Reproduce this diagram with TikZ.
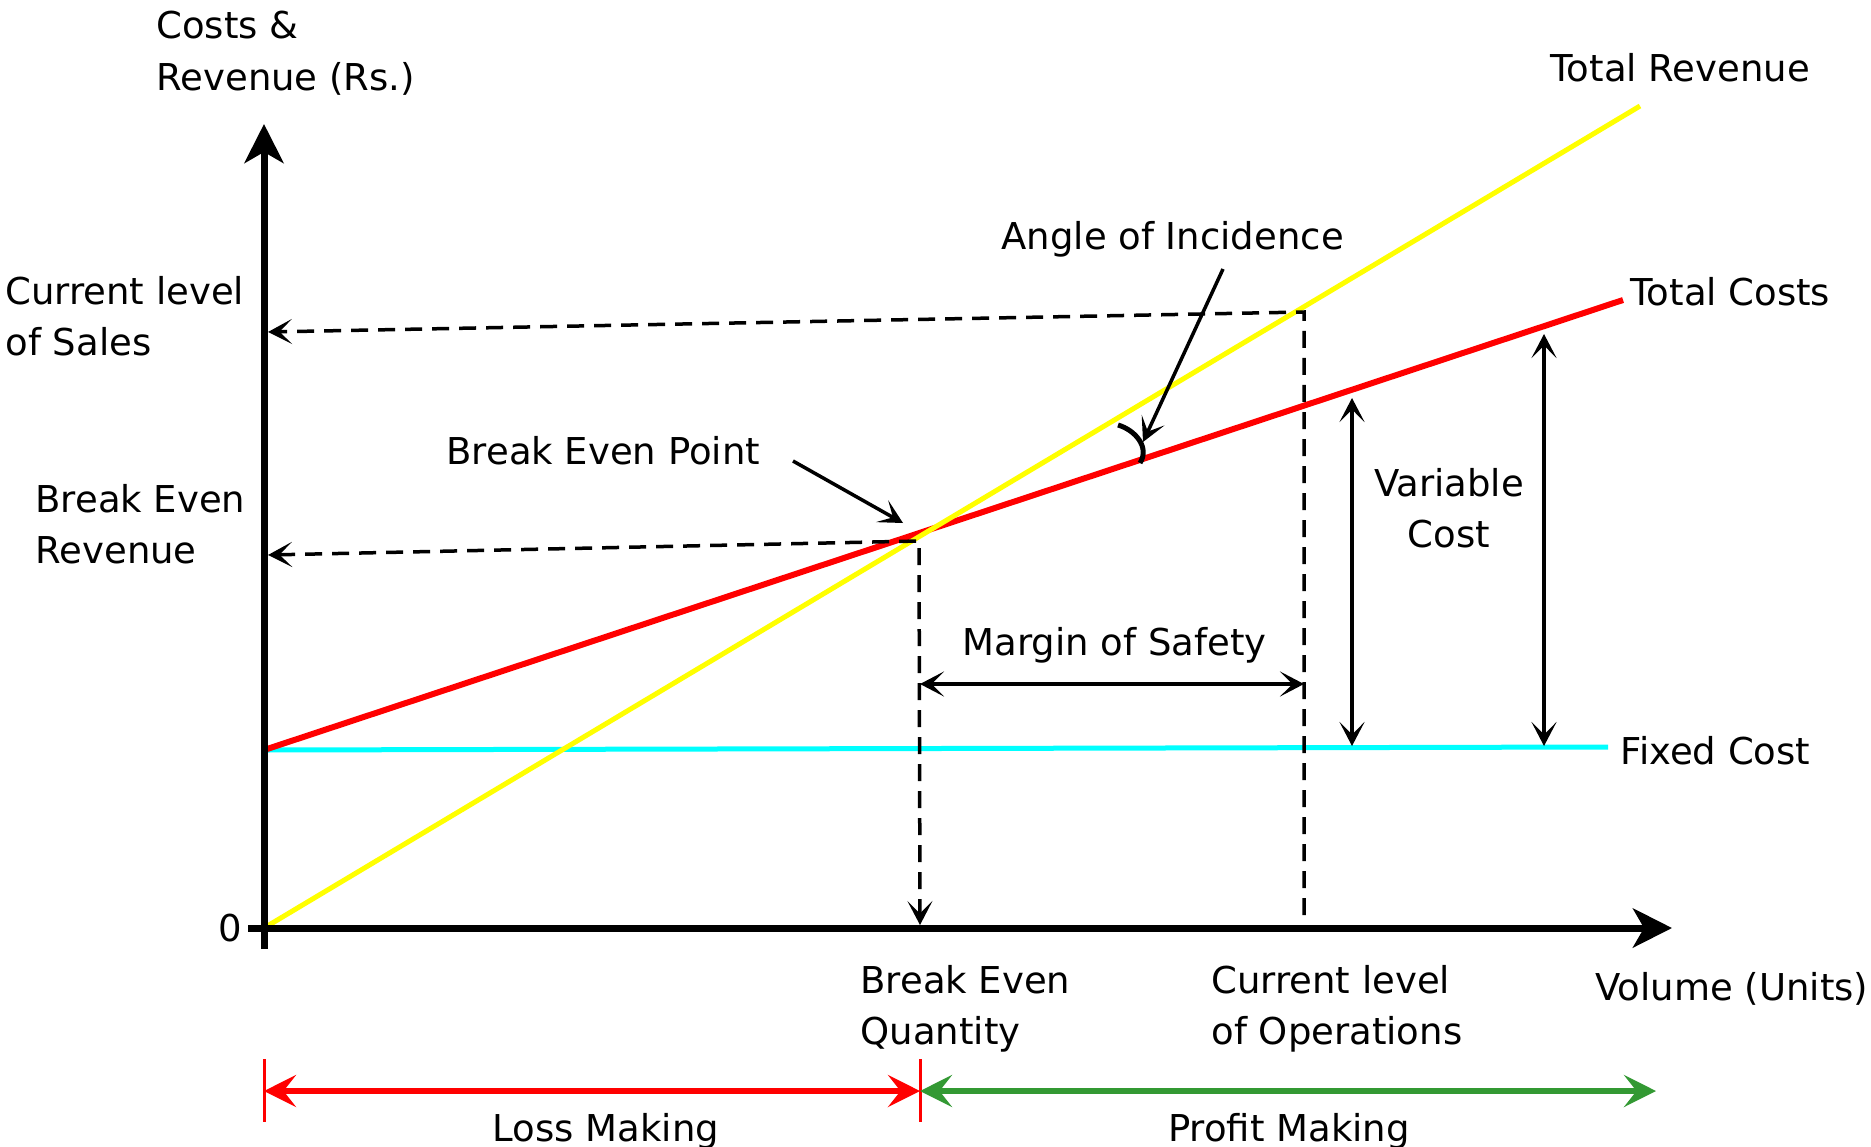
\documentclass[tikz,border=0pt]{standalone}
\usepackage{fontspec}
\setmainfont{DejaVu Sans}
\usetikzlibrary{arrows.meta}
\definecolor{tcred}{RGB}{255,0,0}
\definecolor{tryellow}{RGB}{255,255,0}
\definecolor{fccyan}{RGB}{0,255,255}
\definecolor{pmgreen}{RGB}{51,153,51}
\tikzset{
  axistip/.tip={Stealth[length=15.6pt,width=15.6pt,inset=4.4pt]},
  smalltip/.tip={Stealth[length=9.6pt,width=10pt,inset=5pt]},
  bigtip/.tip={Stealth[length=12.8pt,width=12.8pt,inset=5pt]},
  lbl/.style={inner sep=0pt, font=\fontsize{14.8}{20.4}\selectfont, align=left, anchor=base west},
  axisline/.style={line width=2.8pt, black},
  guide/.style={line width=1.4pt, black, dash pattern=on 6.8pt off 4pt},
  pointer/.style={line width=1.4pt, black},
  revline/.style={line width=2pt, tryellow},
  costline/.style={line width=2.4pt, tcred},
  fixline/.style={line width=2pt, fccyan},
  zoneline/.style={line width=2.4pt},
  zonetick/.style={line width=1.2pt, tcred}
}
\begin{document}
\begin{tikzpicture}[x=0.4pt,y=-0.4pt]
\fill[white] (0,0) rectangle (1871,1146);
\useasboundingbox (0,0) rectangle (1871,1146);

% key coordinates
\coordinate (O) at (264,928);
\coordinate (ytop) at (264,124);
\coordinate (ybot) at (264,949);
\coordinate (xleft) at (248,928);
\coordinate (xright) at (1672,928);
\coordinate (fc1) at (264,750);
\coordinate (fc2) at (1608,747);
\coordinate (tc1) at (264,750);
\coordinate (tc2) at (1623,300);
\coordinate (tr2) at (1640,106);
\coordinate (bepc) at (919,541);
\coordinate (bepL) at (268,555);
\coordinate (bepD) at (920,925);
\coordinate (curB) at (1304,915);
\coordinate (curT) at (1304,312);
\coordinate (curL) at (268,332);
\coordinate (mosL) at (920,684);
\coordinate (mosR) at (1304,684);
\coordinate (vc1t) at (1352,398);
\coordinate (vc1b) at (1352,746);
\coordinate (vc2t) at (1544,334);
\coordinate (vc2b) at (1544,746);
\coordinate (bepA) at (793,461);
\coordinate (bepB) at (903,523);
\coordinate (aoiA) at (1223,269);
\coordinate (aoiB) at (1143,442);
\coordinate (arcA) at (1118,425);
\coordinate (arcB) at (1140,463);
\coordinate (zl) at (264,1091);
\coordinate (zm) at (920,1091);
\coordinate (zr) at (1656,1091);
\coordinate (t1a) at (264,1059);
\coordinate (t1b) at (264,1122);
\coordinate (t2a) at (920,1059);
\coordinate (t2b) at (920,1122);

% lines
\draw[fixline] (fc1) -- (fc2);
\draw[costline] (tc1) -- (tc2);
\draw[revline] (O) -- (tr2);

% axes
\draw[axisline] (ybot) -- (264,928);
\draw[axisline, -{axistip}] (264,931) -- (ytop);
\draw[axisline, -{axistip}] (xleft) -- (xright);

% guides
\draw[guide, {smalltip}-{smalltip}] (bepL) -- (bepc) -- (bepD);
\draw[guide, -{smalltip}] (curB) -- (curT) -- (curL);

% pointers
\draw[pointer, {smalltip}-{smalltip}] (mosL) -- (mosR);
\draw[pointer, {smalltip}-{smalltip}] (vc1t) -- (vc1b);
\draw[pointer, {smalltip}-{smalltip}] (vc2t) -- (vc2b);
\draw[pointer, -{smalltip}] (bepA) -- (bepB);
\draw[pointer, -{smalltip}] (aoiA) -- (aoiB);
\draw[line width=2pt, black] (arcA) .. controls (1135,430) and (1150,447) .. (arcB);

% zones
\draw[zonetick] (t1a) -- (t1b);
\draw[zonetick] (t2a) -- (t2b);
\draw[zoneline, tcred, {bigtip}-{bigtip}] (zl) -- (zm);
\draw[zoneline, pmgreen, {bigtip}-{bigtip}] (zm) -- (zr);

% labels (multi-line nodes: base = last line's baseline)
\node[lbl] (ylabel) at (156,90) {Costs \&\\Revenue (Rs.)};
\node[lbl] (cls) at (5,355) {Current level\\of Sales};
\node[lbl] (ber) at (35,563) {Break Even\\Revenue};
\node[lbl] (bepl) at (446,464) {Break Even Point};
\node[lbl, anchor=base] (zero) at (230,941) {0};
\node[lbl] (beq) at (860,1044) {Break Even\\Quantity};
\node[lbl] (clo) at (1211,1044) {Current level\\of Operations};
\node[lbl] (xlabel) at (1595,1000) {Volume (Units)};
\node[lbl] (trl) at (1550,81) {Total Revenue};
\node[lbl] (tcl) at (1630,305) {Total Costs};
\node[lbl] (fcl) at (1620,764) {Fixed Cost};
\node[lbl] (mos) at (962,655) {Margin of Safety};
\node[lbl] (aoi) at (1001,249) {Angle of Incidence};
\node[lbl, align=center, anchor=base] (vc) at (1449,547) {Variable\\Cost};
\node[lbl, anchor=base] (loss) at (606,1141) {Loss Making};
\node[lbl, anchor=base] (profit) at (1289,1141) {Profit Making};
\end{tikzpicture}
\end{document}
